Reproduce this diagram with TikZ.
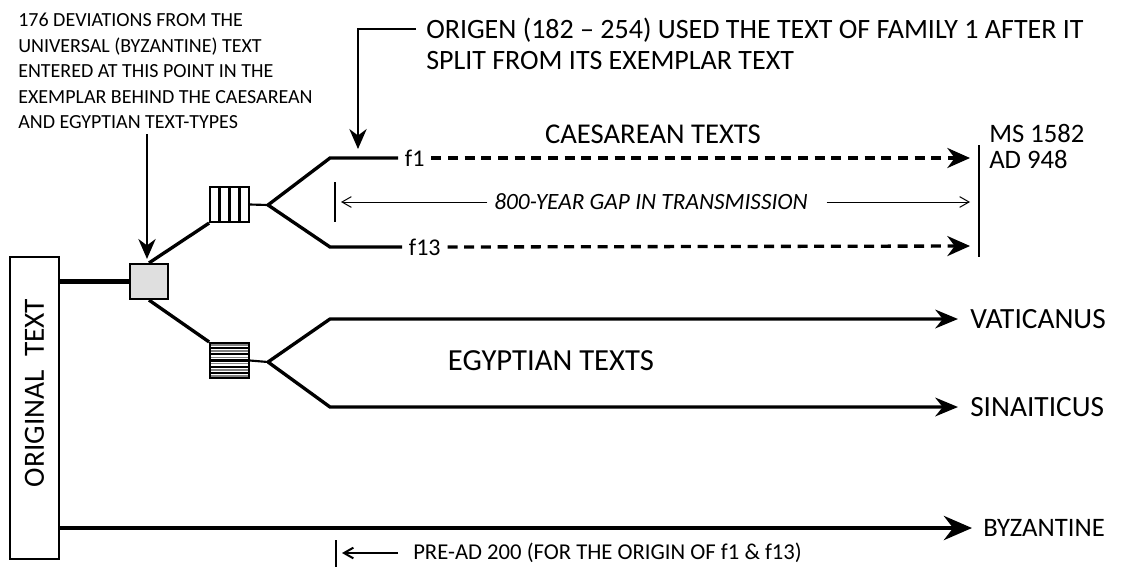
\documentclass[tikz,border=0pt]{standalone}
\usepackage{fontspec}
\setmainfont{Carlito}
\usetikzlibrary{positioning, arrows.meta, calc}

\begin{document}
\begin{tikzpicture}[x=0.75pt, y=-0.75pt,
    every node/.style={font=\fontsize{20}{24}\selectfont, inner sep=0pt},
    note/.style={align=left},
    trunk/.style={line width=3.6pt},
    branch/.style={line width=2.5pt},
    lead/.style={line width=1.5pt, -{Stealth[length=15pt, width=13pt]}},
    thinarr/.style={line width=0.75pt, -{Straight Barb[length=7pt, width=8pt]}},
    cutoff/.style={line width=1.6pt},
    copyline/.style={branch, dash pattern=on 7.5pt off 5pt, -{Stealth[length=17pt, width=15pt]}},
    textline/.style={branch, -{Stealth[length=17pt, width=14pt]}},
    msbox/.style={draw, line width=1.6pt, minimum width=29pt, minimum height=26.25pt},
  ]
  \useasboundingbox (0,0) rectangle (1130,569);

  % original text and the trunk lines
  \node[draw, line width=1.6pt, minimum width=36.75pt, minimum height=226.5pt] (orig) at (34.5,408) {};
  \node[rotate=90, font=\fontsize{22}{24}\selectfont] (origlbl) at (34.5,393) {ORIGINAL\ \ TEXT};
  \node[msbox, fill=gray!25, minimum width=28.5pt] (junc) at (149,281.5) {};
  \draw[trunk] (orig.east |- junc) -- (junc.west);
  \coordinate (byztip) at (972,528);
  \draw[trunk, -{Stealth[length=21pt, width=18pt]}] (orig.east |- byztip) -- (byztip);
  \node[anchor=west] (byz) at (983,528) {BYZANTINE};

  % exemplar boxes
  \node[msbox, fill=white] (vbox) at (229.5,204.5) {};
  \foreach \i in {1,2,3}
    \draw[line width=2.2pt] ($(vbox.south west)!\i/4!(vbox.south east)$) -- ($(vbox.north west)!\i/4!(vbox.north east)$);
  \node[msbox, fill=white] (hbox) at (229.5,360.5) {};
  \foreach \i in {0,...,5}
    \draw[line width=1.3pt, gray] ($(hbox.north west)!\i/6+1/12!(hbox.south west)$) -- ($(hbox.north east)!\i/6+1/12!(hbox.south east)$);
  \foreach \i in {1,...,5}
    \draw[line width=1.6pt] ($(hbox.north west)!\i/6!(hbox.south west)$) -- ($(hbox.north east)!\i/6!(hbox.south east)$);
  \node[msbox] (hboxframe) at (hbox) {};
  \draw[branch] (junc.north) -- (vbox.south west);
  \draw[branch] (junc.south) -- (hbox.north west);

  % caesarean texts
  \coordinate (cfork) at (268,205);
  \coordinate (cup) at (330,158);
  \coordinate (clow) at (330,247);
  \node[anchor=west, inner xsep=5pt, font=\fontsize{18}{20}\selectfont] (f1) at (398,158) {f1};
  \node[anchor=west, inner xsep=5pt, font=\fontsize{18}{20}\selectfont] (f13) at (402,247) {f13};
  \draw[cutoff] (vbox.east) -- (cfork);
  \draw[branch] (cfork) -- (cup) -- (f1.west);
  \draw[branch] (cfork) -- (clow) -- (f13.west);
  \coordinate (f1tip) at (970,158);
  \coordinate (f13tip) at (970,246);
  \draw[copyline] (f1.east) -- (f1tip);
  \draw[copyline] (f13.east) -- (f13tip);
  \coordinate (bartop) at (979,145);
  \coordinate (barbot) at (979,257);
  \draw[line width=2pt] (bartop) -- (barbot);
  \node[anchor=north west, align=left, font=\fontsize{20}{19.5}\selectfont] (ms1582) at (989,124) {MS 1582\\AD 948};
  \node[font=\fontsize{21.5}{24}\selectfont] (caes) at (653,134) {CAESAREAN TEXTS};

  % the gap
  \coordinate (gaptop) at (335,182);
  \coordinate (gapbot) at (335,222);
  \draw[line width=1pt] (gaptop) -- (gapbot);
  \node[inner xsep=5pt, font=\itshape\fontsize{17.5}{20}\selectfont] (gap) at (651,202) {800-YEAR GAP IN TRANSMISSION};
  \coordinate (gaplt) at (341,202);
  \coordinate (gaprt) at (970,202);
  \draw[thinarr] (gap.west) -- (gaplt);
  \draw[thinarr] ([xshift=9pt]gap.east) -- (gaprt);

  % egyptian texts
  \coordinate (efork) at (268,362);
  \coordinate (eup) at (330,319);
  \coordinate (elow) at (330,407);
  \coordinate (vattip) at (958,319);
  \coordinate (sintip) at (958,407);
  \draw[cutoff] (hbox.east) -- (efork);
  \draw[textline] (efork) -- (eup) -- (vattip);
  \draw[textline] (efork) -- (elow) -- (sintip);
  \node[anchor=west, font=\fontsize{22}{24}\selectfont] (vat) at (970,319) {VATICANUS};
  \node[anchor=west, font=\fontsize{22}{24}\selectfont] (sin) at (970,407) {SINAITICUS};
  \node[font=\fontsize{23}{24}\selectfont] (egy) at (551,361) {EGYPTIAN TEXTS};

  % notes with their pointers
  \node[note, anchor=north west, font=\fontsize{15}{19.1}\selectfont] (devnote) at (18,13)
    {176 DEVIATIONS FROM THE\\UNIVERSAL (BYZANTINE) TEXT\\ENTERED AT THIS POINT IN THE\\EXEMPLAR BEHIND THE CAESAREAN\\AND EGYPTIAN TEXT-TYPES};
  \draw[lead] ($(devnote.south -| junc.north)+(-2,5)$) -- ($(junc.north)+(-2,-4)$);
  \node[note, anchor=north west, font=\fontsize{21}{23}\selectfont] (origen) at (426,18)
    {ORIGEN (182 -- 254) USED THE TEXT OF FAMILY 1 AFTER IT\\SPLIT FROM ITS EXEMPLAR TEXT};
  \coordinate (origfoot) at (416,29);
  \coordinate (origtip) at (358,149);
  \draw[lead] (origfoot) -| (origtip);

  % pre-ad 200
  \node[anchor=west, font=\fontsize{17}{20}\selectfont] (pread) at (413,553) {PRE-AD 200 (FOR THE ORIGIN OF f1 \& f13)};
  \coordinate (pretop) at (336,540);
  \coordinate (prebot) at (336,567);
  \coordinate (pretip) at (342,553);
  \draw[line width=1.5pt] (pretop) -- (prebot);
  \draw[line width=1.5pt, -{Straight Barb[length=7pt, width=8pt]}] ($(pread.west)+(-15,0)$) -- (pretip);
\end{tikzpicture}
\end{document}
